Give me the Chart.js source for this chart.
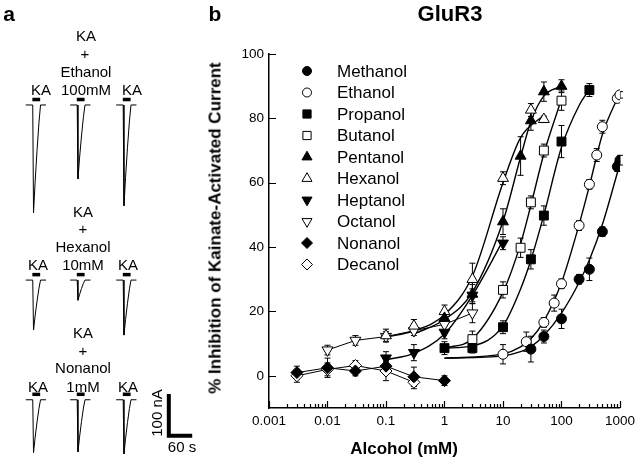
<!DOCTYPE html>
<html>
<head>
<meta charset="utf-8">
<script src="https://cdn.jsdelivr.net/npm/chart.js@4.4.1/dist/chart.umd.min.js"></script>
<style>
  html, body { margin: 0; padding: 0; background: #fff; }
  body { width: 640px; height: 464px; position: relative; overflow: hidden;
         font-family: "Liberation Sans", Arial, Helvetica, sans-serif; color: #000; }
  canvas { position: absolute; top: 0; }
  #traces { left: 0; }
  #dose { left: 200px; }
  .t { position: absolute; white-space: nowrap; transform: translate(-50%, -50%);
       font-size: 15px; line-height: 1; }
  .b { font-weight: bold; }
  .rot { transform: translate(-50%, -50%) rotate(-90deg); }
</style>
</head>
<body>
<canvas id="traces" width="200" height="464"></canvas>
<canvas id="dose" width="440" height="464"></canvas>

<!-- panel a labels -->
<div class="t b" style="left:9px;top:13px;font-size:21px">a</div>
<div class="t" style="left:86px;top:35px">KA</div>
<div class="t" style="left:85px;top:53px">+</div>
<div class="t" style="left:86px;top:71px">Ethanol</div>
<div class="t" style="left:41px;top:89px">KA</div>
<div class="t" style="left:86px;top:89px">100mM</div>
<div class="t" style="left:132px;top:89px">KA</div>
<div class="t" style="left:83px;top:211px">KA</div>
<div class="t" style="left:83px;top:228px">+</div>
<div class="t" style="left:83px;top:246px">Hexanol</div>
<div class="t" style="left:38px;top:264px">KA</div>
<div class="t" style="left:83px;top:264px">10mM</div>
<div class="t" style="left:128px;top:264px">KA</div>
<div class="t" style="left:83px;top:332px">KA</div>
<div class="t" style="left:83px;top:350px">+</div>
<div class="t" style="left:83px;top:367px">Nonanol</div>
<div class="t" style="left:38px;top:386px">KA</div>
<div class="t" style="left:83px;top:386px">1mM</div>
<div class="t" style="left:128px;top:386px">KA</div>
<div class="t rot" style="left:156px;top:413px">100 nA</div>
<div class="t" style="left:182px;top:446px">60 s</div>

<!-- panel b labels -->
<div class="t b" style="left:215px;top:13px;font-size:21px">b</div>
<div class="t b" style="left:450px;top:14px;font-size:22px">GluR3</div>
<div class="t b rot" style="left:215px;top:228px;font-size:17px">% Inhibition of Kainate-Activated Current</div>
<div class="t b" style="left:404px;top:448px;font-size:17px">Alcohol (mM)</div>

<script>
// ---------- panel b data ----------
const xTickValues = [0.001, 0.01, 0.1, 1, 10, 100, 1000]
const yTickValues = [0, 20, 40, 60, 80, 100]

const methanolConc = [30, 50, 100, 200, 300, 500, 900, 1000]
const methanolInhib = [8.3, 12.2, 17.7, 30, 33.1, 44.8, 65, 67]
const methanolSem = [4, 2, 3, 1.5, 3.5, 1.5, 1.5, 1.5]

const ethanolConc = [10, 25, 50, 75, 100, 200, 300, 400, 500, 900, 1000]
const ethanolInhib = [6.7, 10.6, 16.6, 22.6, 28.6, 46.7, 59.5, 68.6, 77.4, 86.2, 87.3]
const ethanolSem = [3, 3, 1.5, 2.5, 1.5, 1.5, 1.5, 2, 2, 1, 1]

const propanolConc = [1, 3, 10, 30, 50, 100, 300]
const propanolInhib = [8.6, 8.6, 15.1, 36.2, 49.8, 72.8, 88.8]
const propanolSem = [2, 1.5, 2, 3, 3, 5, 2]

const butanolConc = [3, 10, 20, 30, 50, 100]
const butanolInhib = [11.4, 26.7, 39.8, 53.9, 70, 85.5]
const butanolSem = [2.5, 2.5, 3, 2, 2, 3]

const pentanolConc = [1, 3, 10, 20, 30, 50, 100]
const pentanolInhib = [17.9, 25.4, 47.9, 68.3, 79.3, 88.3, 90]
const pentanolSem = [2, 3, 4, 6, 3, 3, 2]

const hexanolConc = [0.1, 0.3, 1, 3, 10, 30, 50]
const hexanolInhib = [12.5, 15.5, 20, 30, 61.4, 82.6, 79.7]
const hexanolSem = [2, 2, 2, 5, 2, 2, 1]

const heptanolConc = [0.1, 0.3, 1, 3, 10]
const heptanolInhib = [5.5, 7.2, 13.5, 25, 41.2]
const heptanolSem = [2, 2.5, 2, 2, 2]

const octanolConc = [0.01, 0.03, 0.1, 0.3, 1, 3]
const octanolInhib = [8, 11, 12.2, 14, 16, 19.5]
const octanolSem = [1.5, 1.5, 1.5, 1.5, 2, 3]

const nonanolConc = [0.003, 0.01, 0.03, 0.1, 0.3, 1]
const nonanolInhib = [1, 2.5, 1.5, 3, -0.3, -1.5]
const nonanolSem = [2, 3, 1.5, 2, 3, 1.5]

const decanolConc = [0.003, 0.01, 0.03, 0.1, 0.3]
const decanolInhib = [0, 2, 3.2, 1.5, -2]
const decanolSem = [2, 2, 1.5, 3, 2]

// fitted curves
const methanolFitConc = [1, 10, 20, 30, 50, 100, 200, 300, 500, 1000]
const methanolFitInhib = [5.5, 6.2, 7.5, 9, 12.5, 19.5, 29, 36, 47, 66]
const ethanolFitConc = [1, 10, 20, 30, 50, 100, 200, 300, 500, 1000]
const ethanolFitInhib = [5.5, 6.8, 9, 11.5, 17, 29, 47, 59, 75, 88]
const propanolFitConc = [1, 3, 10, 20, 30, 50, 100, 200, 300]
const propanolFitInhib = [8.6, 9.3, 15.5, 27, 36, 50, 71, 84, 89]
const butanolFitConc = [1, 3, 10, 20, 30, 50, 100]
const butanolFitInhib = [8.6, 11.5, 26, 41, 53, 69, 86]
const pentanolFitConc = [0.3, 1, 3, 10, 20, 30, 50, 100]
const pentanolFitInhib = [13, 17.5, 26, 48, 68, 79, 87, 90]
const hexanolFitConc = [0.1, 0.3, 1, 3, 10, 20, 50]
const hexanolFitInhib = [12, 14, 19, 31, 60, 74, 81]
const heptanolFitConc = [0.1, 0.3, 1, 3, 10]
const heptanolFitInhib = [5, 7, 13, 25, 42]

const series = [
  { name: 'Methanol', conc: methanolConc, inhib: methanolInhib, sem: methanolSem, style: 'circle', rot: 0, filled: true, r: 5 },
  { name: 'Ethanol', conc: ethanolConc, inhib: ethanolInhib, sem: ethanolSem, style: 'circle', rot: 0, filled: false, r: 5 },
  { name: 'Propanol', conc: propanolConc, inhib: propanolInhib, sem: propanolSem, style: 'rect', rot: 0, filled: true, r: 6.3 },
  { name: 'Butanol', conc: butanolConc, inhib: butanolInhib, sem: butanolSem, style: 'rect', rot: 0, filled: false, r: 6.3 },
  { name: 'Pentanol', conc: pentanolConc, inhib: pentanolInhib, sem: pentanolSem, style: 'triangle', rot: 0, filled: true, r: 6.3 },
  { name: 'Hexanol', conc: hexanolConc, inhib: hexanolInhib, sem: hexanolSem, style: 'triangle', rot: 0, filled: false, r: 6.3 },
  { name: 'Heptanol', conc: heptanolConc, inhib: heptanolInhib, sem: heptanolSem, style: 'triangle', rot: 180, filled: true, r: 6.3 },
  { name: 'Octanol', conc: octanolConc, inhib: octanolInhib, sem: octanolSem, style: 'triangle', rot: 180, filled: false, r: 6.3, line: true },
  { name: 'Nonanol', conc: nonanolConc, inhib: nonanolInhib, sem: nonanolSem, style: 'rectRot', rot: 0, filled: true, r: 6, line: true },
  { name: 'Decanol', conc: decanolConc, inhib: decanolInhib, sem: decanolSem, style: 'rectRot', rot: 0, filled: false, r: 6, line: true }
]

const fits = [
  [methanolFitConc, methanolFitInhib],
  [ethanolFitConc, ethanolFitInhib],
  [propanolFitConc, propanolFitInhib],
  [butanolFitConc, butanolFitInhib],
  [pentanolFitConc, pentanolFitInhib],
  [hexanolFitConc, hexanolFitInhib],
  [heptanolFitConc, heptanolFitInhib]
]

const FONT = '"Liberation Sans", Arial, Helvetica, sans-serif'
Chart.defaults.font.family = FONT
Chart.defaults.color = '#000'

const toPoints = (xs, ys) => xs.map((x, i) => ({ x: x, y: ys[i] }))

const markerSets = series.map(s => ({
  label: s.name,
  data: toPoints(s.conc, s.inhib),
  sem: s.sem,
  showLine: !!s.line,
  borderColor: '#000',
  borderWidth: 1,
  pointStyle: s.style,
  pointRotation: s.rot,
  pointRadius: s.r,
  pointBackgroundColor: s.filled ? '#000' : '#fff',
  pointBorderColor: '#000',
  pointBorderWidth: 1
}))

const fitSets = fits.map(f => ({
  data: toPoints(f[0], f[1]),
  showLine: true,
  pointRadius: 0,
  borderColor: '#000',
  borderWidth: 1.4,
  cubicInterpolationMode: 'monotone'
}))

const errorBars = {
  id: 'errorBars',
  beforeDatasetsDraw(chart) {
    const ctx = chart.ctx
    const y = chart.scales.y
    ctx.save()
    ctx.strokeStyle = '#000'
    ctx.lineWidth = 1
    chart.data.datasets.forEach((ds, i) => {
      if (!ds.sem) return
      chart.getDatasetMeta(i).data.forEach((el, j) => {
        const v = ds.data[j].y
        const top = y.getPixelForValue(v + ds.sem[j])
        const bot = y.getPixelForValue(v - ds.sem[j])
        ctx.beginPath()
        ctx.moveTo(el.x, top); ctx.lineTo(el.x, bot)
        ctx.moveTo(el.x - 3, top); ctx.lineTo(el.x + 3, top)
        ctx.moveTo(el.x - 3, bot); ctx.lineTo(el.x + 3, bot)
        ctx.stroke()
      })
    })
    ctx.restore()
  }
}

// inward tick marks, major and minor
const tickMarks = {
  id: 'tickMarks',
  afterDraw(chart) {
    const { ctx, scales: { x, y } } = chart
    ctx.save()
    ctx.strokeStyle = '#000'
    ctx.lineWidth = 1.2
    ctx.beginPath()
    for (let d = 0; d < xTickValues.length; d++) {
      for (let m = 1; m <= 9; m++) {
        const v = xTickValues[d] * m
        if (v > x.max * 1.0001) break
        const px = Math.round(x.getPixelForValue(v)) + 0.5
        const len = m === 1 ? 7 : 4
        ctx.moveTo(px, y.bottom)
        ctx.lineTo(px, y.bottom - len)
      }
    }
    yTickValues.forEach(v => {
      const py = Math.round(y.getPixelForValue(v)) + 0.5
      ctx.moveTo(x.left, py)
      ctx.lineTo(x.left + 7, py)
    })
    ctx.stroke()
    ctx.restore()
  }
}

const legendBox = {
  id: 'legendBox',
  afterDraw(chart) {
    const ctx = chart.ctx
    ctx.save()
    ctx.font = '17px ' + FONT
    ctx.textBaseline = 'middle'
    series.forEach((s, i) => {
      const ly = 71 + i * 21.5
      ctx.fillStyle = s.filled ? '#000' : '#fff'
      ctx.strokeStyle = '#000'
      ctx.lineWidth = 1
      Chart.helpers.drawPoint(ctx, { pointStyle: s.style, rotation: s.rot, radius: s.r - 0.5, borderWidth: 1 }, 107, ly)
      ctx.fillStyle = '#000'
      ctx.fillText(s.name, 137, ly + 1)
    })
    ctx.restore()
  }
}

new Chart(document.getElementById('dose').getContext('2d'), {
  type: 'scatter',
  data: { datasets: markerSets.concat(fitSets) },
  options: {
    responsive: false,
    animation: false,
    layout: { padding: { left: 0, right: 17, top: 54, bottom: 0 } },
    plugins: { legend: { display: false }, tooltip: { enabled: false } },
    scales: {
      x: {
        type: 'logarithmic',
        min: 0.001,
        max: 1000,
        afterBuildTicks: s => { s.ticks = xTickValues.map(v => ({ value: v })) },
        afterFit: s => { s.height = 56 },
        ticks: { font: { size: 13.5 }, padding: 5, maxRotation: 0, callback: v => String(v) },
        grid: { drawOnChartArea: false, drawTicks: false },
        border: { color: '#000', width: 1.5 }
      },
      y: {
        min: -10,
        max: 100,
        afterBuildTicks: s => { s.ticks = yTickValues.map(v => ({ value: v })) },
        afterFit: s => { s.width = 69 },
        ticks: { font: { size: 13.5 }, padding: 5 },
        grid: { drawOnChartArea: false, drawTicks: false },
        border: { color: '#000', width: 1.5 }
      }
    }
  },
  plugins: [errorBars, tickMarks, legendBox]
})

// ---------- panel a: whole-cell current traces ----------
// shape of one kainate response, time in s from onset, current as fraction of peak
const traceTime = [-20, -2, 0, 4, 9, 14, 18, 32]
const traceShape = [0, 0, -1, -0.72, -0.42, -0.16, 0, 0]
const columnTimes = [86, 200, 318]           // s
const rowBaselines = [-250, -667, -952]       // nA
const ethanolPeaks = [257, 176, 240]          // nA: KA, KA + ethanol 100 mM, KA
const hexanolPeaks = [119, 48, 131]           // KA, KA + hexanol 10 mM, KA
const nonanolPeaks = [126, 124, 129]          // KA, KA + nonanol 1 mM, KA
const peaks = [ethanolPeaks, hexanolPeaks, nonanolPeaks]

const traceSets = []
peaks.forEach((row, r) => {
  row.forEach((peak, c) => {
    const t0 = columnTimes[c]
    const base = rowBaselines[r]
    traceSets.push({
      data: traceTime.map((t, k) => ({ x: t0 + t, y: base + traceShape[k] * peak })),
      showLine: true, pointRadius: 0, borderColor: '#000', borderWidth: 1
    })
    traceSets.push({
      data: [{ x: t0 - 3, y: base + 13 }, { x: t0 + 17, y: base + 13 }],
      showLine: true, pointRadius: 0, borderColor: '#000', borderWidth: 3.5
    })
  })
})
// calibration: 100 nA, 60 s
traceSets.push({
  data: [{ x: 433, y: -938 }, { x: 433, y: -1038 }, { x: 493, y: -1038 }],
  showLine: true, pointRadius: 0, borderColor: '#000', borderWidth: 4, borderJoinStyle: 'miter'
})

new Chart(document.getElementById('traces').getContext('2d'), {
  type: 'scatter',
  data: { datasets: traceSets },
  options: {
    responsive: false,
    animation: false,
    layout: { padding: 0 },
    plugins: { legend: { display: false }, tooltip: { enabled: false } },
    scales: {
      x: { type: 'linear', display: false, min: 0, max: 513 },
      y: { type: 'linear', display: false, min: -1105, max: 0 }
    }
  }
})
</script>
</body>
</html>
